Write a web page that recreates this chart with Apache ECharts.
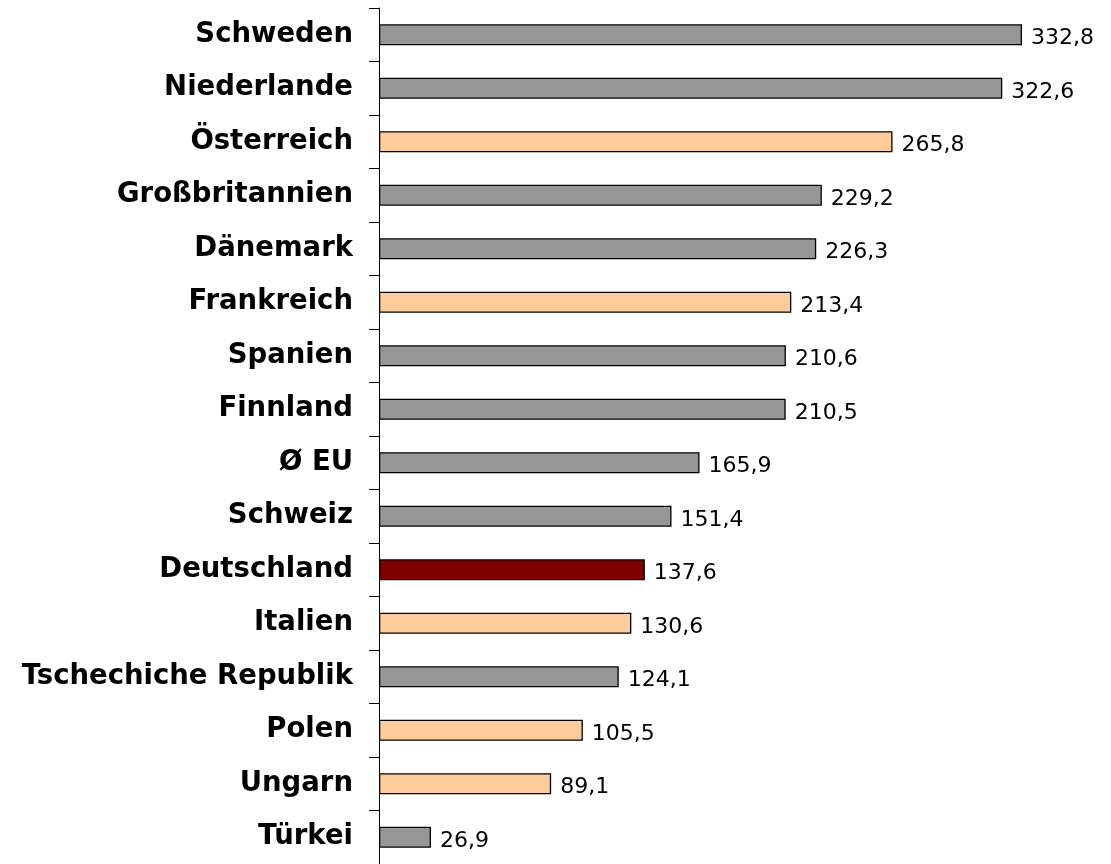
<!DOCTYPE html>
<html>
<head>
<meta charset="utf-8">
<script src="https://cdn.jsdelivr.net/npm/echarts@6/dist/echarts.min.js"></script>
<style>html,body{margin:0;padding:0;background:#fff;}#c{width:1111px;height:864px;}</style>
</head>
<body>
<div id="c"></div>
<script>
const categories = ["Schweden","Niederlande","Österreich","Großbritannien","Dänemark","Frankreich","Spanien","Finnland","Ø EU","Schweiz","Deutschland","Italien","Tschechiche Republik","Polen","Ungarn","Türkei"];
const values = [332.8,322.6,265.8,229.2,226.3,213.4,210.6,210.5,165.9,151.4,137.6,130.6,124.1,105.5,89.1,26.9];
const groups = ["a","a","b","a","a","b","a","a","a","a","c","b","a","b","b","a"];

const groupColors = {a:"#969696", b:"#FFCC99", c:"#800000"};

const chart = echarts.init(document.getElementById('c'), null, {renderer:'canvas'});
chart.setOption({
  animation:false,
  backgroundColor:'#fff',
  grid:{left:379, top:8, width:676.2, height:864, containLabel:false},
  xAxis:{type:'value', min:0, max:350, show:false},
  yAxis:{
    type:'category', data:categories, inverse:true,
    axisLine:{show:true, lineStyle:{color:'#000', width:1}},
    axisTick:{show:true, length:10, inside:false, lineStyle:{color:'#000', width:1}},
    axisLabel:{margin:26, color:'#000', fontFamily:'DejaVu Sans', fontWeight:'bold', fontSize:27.5, padding:[4,0,0,0]},
    splitLine:{show:false}
  },
  series:[{
    type:'bar',
    barWidth:21,
    data: values.map((v,i)=>({value:v, itemStyle:{color:groupColors[groups[i]]}})),
    itemStyle:{borderColor:'#000', borderWidth:1.3},
    label:{show:true, position:'right', distance:9, offset:[0,4], color:'#000', fontFamily:'DejaVu Sans', fontSize:22,
      formatter:p=>p.value.toFixed(1).replace('.',',')}
  }]
});
</script>
</body>
</html>
